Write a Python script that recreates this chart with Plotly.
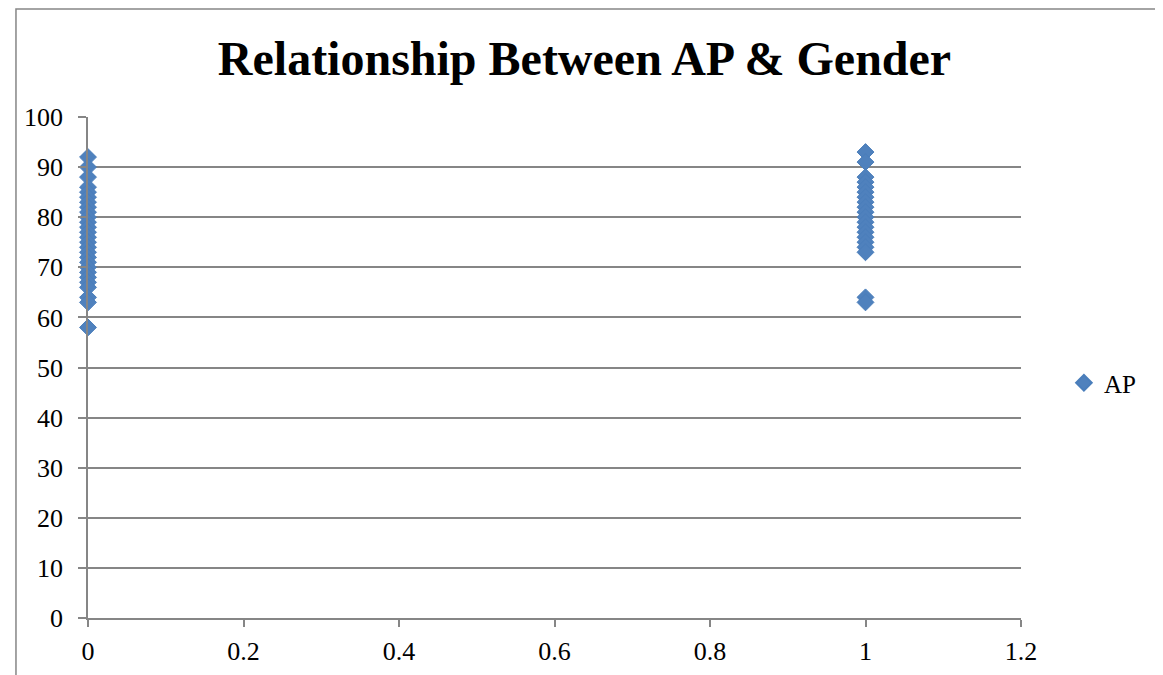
import plotly.graph_objects as go

# Data: gender (0/1) and AP score
gender_0_ap = [92, 90, 88, 86, 85, 84, 83, 82, 81, 80, 79, 78, 77, 76, 75, 74, 73, 72, 71, 70, 69, 68, 67, 66, 64, 63, 58]
gender_1_ap = [93, 91, 88, 87, 86, 85, 84, 83, 82, 81, 80, 79, 78, 77, 76, 75, 74, 73, 64, 63]

gender = [0] * len(gender_0_ap) + [1] * len(gender_1_ap)
ap = gender_0_ap + gender_1_ap

x_ticks = [0, 0.2, 0.4, 0.6, 0.8, 1, 1.2]
x_tick_labels = ["0", "0.2", "0.4", "0.6", "0.8", "1", "1.2"]
y_ticks = list(range(0, 101, 10))

grid = "#868686"
font_family = "Liberation Serif, Times New Roman, serif"

fig = go.Figure()
fig.add_trace(go.Scatter(
    x=gender, y=ap, mode="markers", name="AP", cliponaxis=False,
    marker=dict(symbol="diamond", size=13, color="#4F81BD",
                line=dict(color="#4A7EBB", width=1)),
))

fig.update_layout(
    width=1163, height=675,
    margin=dict(l=80, r=150, t=109, b=65),
    paper_bgcolor="white", plot_bgcolor="white",
    font=dict(family=font_family, size=26, color="black"),
    title=dict(text="<b>Relationship Between AP &amp; Gender</b>",
               x=0.4957, xanchor="center", y=0.926, yanchor="middle",
               font=dict(family=font_family, size=48, color="black")),
    showlegend=True,
    legend=dict(x=1.046, y=0.469, xanchor="left", yanchor="middle",
                font=dict(family=font_family, size=25, color="black"),
                bgcolor="rgba(0,0,0,0)", itemsizing="constant"),
    xaxis=dict(range=[0, 1.2], tickvals=x_ticks, ticktext=x_tick_labels,
               showgrid=False, zeroline=False, showline=True, linecolor=grid, linewidth=1.5,
               ticks="outside", tickcolor=grid, ticklen=7, tickwidth=1.5,
               ticklabelstandoff=2,
               tickfont=dict(family=font_family, size=26, color="black")),
    yaxis=dict(range=[0, 100], tickvals=y_ticks,
               showgrid=True, gridcolor=grid, gridwidth=1.5, zeroline=False,
               showline=True, linecolor=grid, linewidth=1.5,
               ticks="outside", tickcolor=grid, ticklen=8, tickwidth=1.5,
               ticklabelstandoff=10,
               tickfont=dict(family=font_family, size=26, color="black")),
    shapes=[dict(type="rect", xref="paper", yref="paper",
                 x0=-0.0772, x1=1.149, y0=-0.2, y1=1.2156,
                 line=dict(color=grid, width=1.5), layer="below")],
)

fig.write_html("out.html")
